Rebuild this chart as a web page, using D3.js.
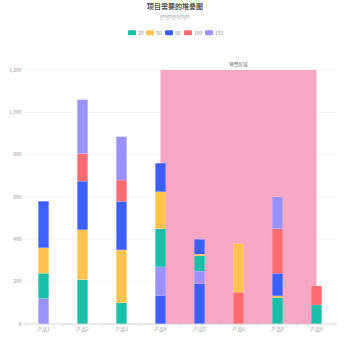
<!DOCTYPE html>
<html>
<head>
<meta charset="utf-8">
<script src="https://cdn.jsdelivr.net/npm/d3@7/dist/d3.min.js"></script>
<style>
html,body{margin:0;padding:0;background:#fff;}
svg{display:block;font-family:"Noto Sans CJK SC","Noto Sans",sans-serif;}
</style>
</head>
<body>
<svg id="chart" width="350" height="350"></svg>
<script>
const categories = ['产品1','产品2','产品3','产品4','产品5','产品6','产品8','产品9'];
const seriesNames = ['20','50','80','100','150'];
const seriesColors = ['#1bbfa8','#ffc34f','#3d5fff','#ff6b70','#9992ff'];
// stacking order of segments per category (as in the data)
const stackSeries = [
  ['150','20','50','80'],
  ['20','50','80','100','150'],
  ['20','50','80','100','150'],
  ['80','150','20','50','80'],
  ['80','150','20','50','80'],
  ['100','50'],
  ['20','50','80','100','150'],
  ['20','100']
];
const stackValues = [
  [120,120,120,220],
  [210,235,230,130,255],
  [100,250,230,100,205],
  [135,135,180,175,135],
  [190,60,72,8,70],
  [150,230],
  [125,8,107,210,150],
  [90,90]
];
const yTicks = [0,200,400,600,800,1000,1200];
const regionStart = '产品4', regionEnd = '产品9';
const regionLabel = '预警区域';
const titleText = '项目需要的堆叠图';
const subtitleText = 'gogogogogo';

const svg = d3.select('#chart');
const m = {left:24, right:336, top:70, bottom:324};

const x = d3.scaleBand().domain(categories).range([m.left, m.right]);
const y = d3.scaleLinear().domain([0,1200]).range([m.bottom, m.top]);
const color = d3.scaleOrdinal().domain(seriesNames).range(seriesColors);

// title
svg.append('text').attr('x',175).attr('y',9).attr('text-anchor','middle')
  .attr('font-size',7).attr('font-weight','bold').attr('fill','#555').text(titleText);
svg.append('text').attr('x',175).attr('y',18).attr('text-anchor','middle')
  .attr('font-size',5.2).attr('fill','#aaa').text(subtitleText);

// legend
const legendX = [128,146,165,184,205];
const lg = svg.append('g');
seriesNames.forEach((s,i)=>{
  lg.append('rect').attr('x',legendX[i]).attr('y',30.3).attr('width',8).attr('height',5)
    .attr('rx',1).attr('fill',color(s));
  lg.append('text').attr('x',legendX[i]+10).attr('y',34.8).attr('font-size',5)
    .attr('fill','#888').text(s);
});

// grid
const grid = svg.append('g');
yTicks.forEach(t=>{
  if(t===0) return;
  grid.append('line').attr('x1',m.left).attr('x2',m.right)
    .attr('y1',y(t)).attr('y2',y(t)).attr('stroke','#f0f0f0').attr('stroke-width',0.6);
});

// region
const rx0 = x(regionStart)+x.bandwidth()/2, rx1 = x(regionEnd)+x.bandwidth()/2;
svg.append('rect').attr('x',rx0).attr('y',y(1200)).attr('width',rx1-rx0)
  .attr('height',y(0)-y(1200)).attr('fill','#f5a7c4');
svg.append('text').attr('x',(rx0+rx1)/2).attr('y',65.5).attr('text-anchor','middle')
  .attr('font-size',4.6).attr('fill','#666').text(regionLabel);

// bars
const barW = 10.5;
const bars = svg.append('g');
categories.forEach((c,ci)=>{
  let acc = 0;
  stackSeries[ci].forEach((s,si)=>{
    const v = stackValues[ci][si];
    bars.append('rect')
      .attr('x', x(c)+x.bandwidth()/2-barW/2)
      .attr('width', barW)
      .attr('y', y(acc+v))
      .attr('height', y(acc)-y(acc+v))
      .attr('fill', color(s))
      .attr('stroke','rgba(255,255,255,0.35)').attr('stroke-width',0.4);
    acc += v;
  });
});

// y axis labels
const fmt = d3.format(',');
const ya = svg.append('g');
yTicks.forEach(t=>{
  ya.append('text').attr('x',21.5).attr('y',y(t)+1.7).attr('text-anchor','end')
    .attr('font-size',5).attr('fill','#999').text(fmt(t));
});

// x axis
const xa = svg.append('g');
xa.append('line').attr('x1',m.left).attr('x2',m.right).attr('y1',m.bottom).attr('y2',m.bottom)
  .attr('stroke','#ccc').attr('stroke-width',0.8);
d3.range(categories.length+1).forEach(i=>{
  const tx = m.left + i*x.step();
  xa.append('line').attr('x1',tx).attr('x2',tx).attr('y1',m.bottom).attr('y2',m.bottom+2.5)
    .attr('stroke','#ccc').attr('stroke-width',0.6);
});
categories.forEach(c=>{
  xa.append('text').attr('x',x(c)+x.bandwidth()/2).attr('y',331).attr('text-anchor','middle')
    .attr('font-size',4.8).attr('fill','#999').text(c);
});
</script>
</body>
</html>
